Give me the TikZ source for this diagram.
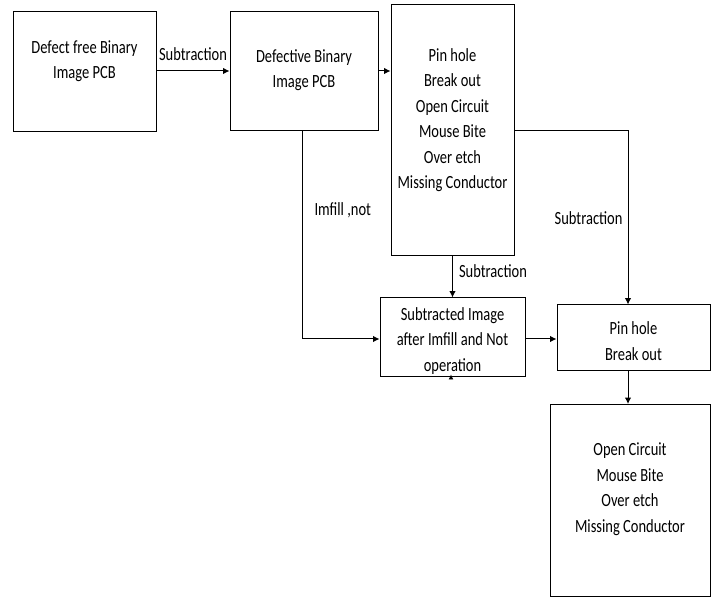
\documentclass[tikz,border=0pt]{standalone}
\usepackage{fontspec}
\setmainfont{Carlito}[FakeStretch=0.78]
\usetikzlibrary{arrows.meta,positioning}

\tikzset{
  box/.style={draw,line width=0.5pt,inner sep=0pt},
  txt/.style={align=center,inner sep=0pt,font=\fontsize{9.3}{12.75}\selectfont},
  lbl/.style={inner sep=0pt,font=\fontsize{9.3}{12.75}\selectfont},
  conn/.style={line width=0.5pt,-{Latex[length=3.2pt,width=3.2pt]}}
}

\begin{document}
\begin{tikzpicture}[x=0.5pt,y=-0.5pt]
\useasboundingbox (0,0) rectangle (717,598);
% boxes
\node [box,minimum width=71.5pt,minimum height=60pt] (free) at (84.5,72) {};
\node [box,minimum width=74pt,minimum height=59.5pt] (defective) at (304,71.5) {};
\node [box,minimum width=61.5pt,minimum height=125.5pt] (defects) at (452.5,130.5) {};
\node [box,minimum width=72.5pt,minimum height=39.5pt] (subtracted) at (452.5,337.5) {};
\node [box,minimum width=76.5pt,minimum height=33pt] (pinbreak) at (633.5,338) {};
\node [box,minimum width=80pt,minimum height=96pt] (rest) at (630,500.5) {};
% texts
\node [txt] (free-t) at (84.5,61) {Defect free Binary\\Image PCB};
\node [txt] (defective-t) at (304,70) {Defective Binary\\Image PCB};
\node [txt] (defects-t) at (452.5,120) {Pin hole\\Break out\\Open Circuit\\Mouse Bite\\Over etch\\Missing Conductor};
\node [txt] (subtracted-t) at (452.5,341) {Subtracted Image\\after Imfill and Not\\operation};
\node [txt] (pinbreak-t) at (633.5,341) {Pin hole\\Break out};
\node [txt] (rest-t) at (630,489) {Open Circuit\\Mouse Bite\\Over etch\\Missing Conductor};
% connectors
\draw [conn] (free.east |- 0,71) -- node[lbl,above=5pt] {Subtraction} (defective.west |- 0,71);
\draw [conn] (defective.east |- 0,71) -- (defects.west |- 0,71);
\draw [conn] (defective.south -| 302,0) |- node[lbl,pos=0.19,right=6pt] {Imfill ,not} (subtracted.west |- 0,339);
\draw [conn] (defects.south) -- node[lbl,pos=0.36,right=3pt] {Subtraction} (subtracted.north);
\draw [conn] (defects.east |- 0,131) -| node[lbl,pos=0.75,left=2.5pt] {Subtraction} (pinbreak.north -| 628,0);
\draw [conn] (subtracted.east |- 0,339) -- (pinbreak.west |- 0,339);
\draw [conn] (pinbreak.south -| 628,0) -- (rest.north -| 628,0);
\draw [line width=0.4pt,-{Latex[length=2.5pt,width=2.5pt]}] (subtracted.south -| 451,0) -- ++(0,-3);
\end{tikzpicture}
\end{document}
